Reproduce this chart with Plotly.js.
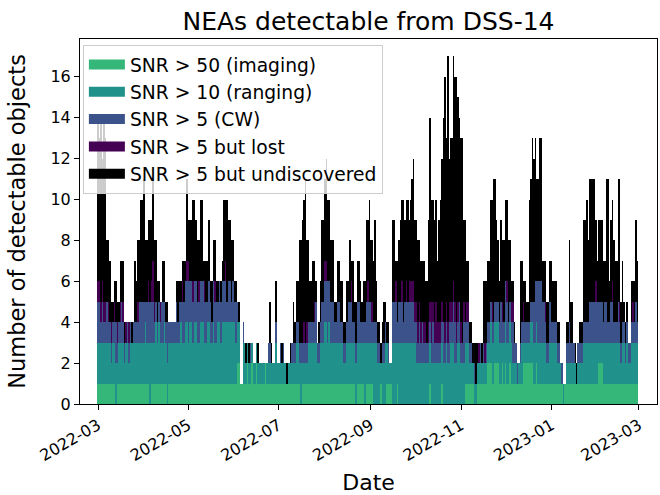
<!DOCTYPE html>
<html><head><meta charset="utf-8">
<script src="https://cdn.plot.ly/plotly-3.0.1.min.js"></script>
<style>html,body{margin:0;padding:0;background:#fff}#chart{width:660px;height:495px}</style>
</head><body><div id="chart"></div>
<script>
// first day of the daily series (one bar per day)
const startDate = [2022, 2, 1]; // 2022-03-01 (month is 0-based)

const seriesNames = ['SNR > 50 (imaging)', 'SNR > 10 (ranging)', 'SNR > 5 (CW)', 'SNR > 5 but lost', 'SNR > 5 but undiscovered'];
const seriesColors = ['#35b779', '#21918c', '#3b528b', '#440154', '#000000'];

const tickDates = ['2022-03-01', '2022-05-01', '2022-07-01', '2022-09-01', '2022-11-01', '2023-01-01', '2023-03-01'];
const tickLabels = ['2022-03', '2022-05', '2022-07', '2022-09', '2022-11', '2023-01', '2023-03'];

const snr50 = [
1,1,1,1,1,1,1,1,1,1, 1,1,0,1,1,1,1,1,1,1, 1,1,1,1,1,1,1,1,1,1, 1,1,1,1,1,0,1,1,1,1,
1,1,1,1,1,1,1,0,1,1, 1,1,1,1,1,1,1,1,1,1, 1,1,1,1,1,1,1,1,1,1, 1,1,1,1,1,1,1,1,1,1,
1,1,1,1,1,1,1,1,1,1, 1,1,1,1,2,2,1,1,1,1, 1,2,1,1,2,1,1,2,1,1, 1,1,1,2,1,1,1,1,1,1,
1,1,1,1,1,1,1,1,1,1, 1,1,1,1,1,1,1,0,1,1, 1,1,1,1,1,1,1,1,1,1, 1,1,1,1,1,1,1,1,1,1,
1,1,1,1,1,1,1,1,1,1, 1,1,1,1,0,1,1,1,1,1, 0,1,1,1,1,1,0,0,0,0, 0,1,0,0,0,1,1,1,1,0,
0,0,1,0,0,0,0,0,0,0, 0,0,0,0,0,0,0,0,0,0, 0,0,0,0,1,0,0,0,0,0, 0,0,1,0,0,0,0,0,0,0,
0,0,0,0,0,0,0,0,1,1, 1,1,1,1,0,0,1,1,1,1, 1,1,1,2,2,2,1,1,2,2, 2,1,1,2,1,2,1,1,2,1,
1,1,1,1,1,1,1,2,2,2, 2,2,2,2,1,1,2,1,1,1, 1,1,1,1,1,1,1,1,1,1, 1,1,1,1,0,1,1,1,1,1,
1,1,1,1,1,1,1,1,1,1, 1,1,1,1,1,1,1,1,2,2, 2,1,1,1,1,1,1,1,1,1, 1,1,1,1,1,1,1,1,1,1,
1,1,1,1,1];

const snr10 = [
2,2,2,2,2,2,2,2,2,1, 2,2,2,1,2,2,2,2,1,2, 2,1,2,2,2,2,2,2,2,2, 2,2,3,2,2,3,2,2,2,3,
2,3,2,2,2,3,2,2,2,2, 2,2,2,2,2,2,3,2,2,3, 3,2,3,3,2,3,3,2,2,3, 3,3,2,2,3,3,2,2,3,2,
2,3,3,2,3,3,3,3,3,3, 3,3,3,2,2,2,0,0,2,2, 1,1,1,1,1,1,1,1,1,1, 1,1,1,0,1,1,1,1,1,1,
2,1,1,1,1,1,1,0,0,1, 1,1,1,1,2,2,1,2,1,1, 1,1,2,2,2,2,2,2,1,1, 2,2,2,3,3,2,3,2,2,2,
2,2,2,2,2,2,1,1,2,2, 2,2,2,2,2,2,2,2,2,2, 3,2,2,2,2,2,3,3,3,2, 2,1,2,2,3,2,1,1,1,3,
3,3,2,3,3,3,3,3,3,3, 3,3,3,3,3,2,2,2,2,2, 2,2,2,2,2,2,2,2,2,2, 2,2,2,2,2,3,2,2,3,3,
3,2,2,3,3,2,2,2,2,2, 2,1,1,1,1,1,1,1,1,1, 1,1,1,1,1,2,2,2,2,2, 2,2,2,1,2,2,2,2,2,2,
1,1,1,0,1,1,2,1,1,1, 1,1,2,2,2,2,2,2,2,2, 2,2,2,1,1,2,2,2,2,2, 1,1,1,0,1,0,1,1,1,1,
1,1,1,0,1,1,1,1,2,2, 2,2,2,2,2,2,2,2,1,1, 1,2,2,2,2,2,2,2,2,2, 2,2,2,1,2,2,1,2,1,1,
2,2,2,2,2];

const snr5cw = [
2,2,1,2,1,1,2,1,1,1, 1,1,2,1,1,1,2,1,1,0, 1,1,1,0,1,1,1,1,2,2, 2,2,1,2,2,2,2,2,1,1,
1,1,1,2,2,1,1,2,1,1, 1,1,1,2,1,2,1,2,2,2, 2,3,2,2,2,2,2,2,2,2, 2,2,2,2,1,2,2,1,2,2,
2,1,2,2,2,2,2,1,2,2, 1,2,1,2,1,0,0,0,1,0, 0,0,0,1,0,0,0,0,0,0, 0,0,0,0,0,1,1,0,0,0,
1,0,0,1,0,1,0,0,0,0, 0,1,1,1,1,1,1,1,1,1, 1,1,1,1,1,1,1,2,1,1, 1,2,2,2,2,3,2,2,2,2,
1,1,2,2,1,1,1,1,1,2, 2,2,1,1,1,2,2,1,1,1, 1,2,2,2,2,1,1,1,1,1, 1,0,1,1,1,0,1,0,0,2,
2,2,1,2,2,2,1,2,2,2, 2,2,2,2,1,2,1,2,1,2, 1,1,1,1,1,1,2,1,1,1, 1,1,1,2,1,1,1,2,1,1,
2,2,1,1,2,1,1,2,1,1, 1,1,1,0,1,0,0,0,1,0, 1,0,1,1,1,1,1,1,1,1, 1,1,2,1,1,2,2,1,1,1,
2,1,1,1,0,1,1,1,1,1, 1,1,1,1,2,3,2,3,3,3, 2,2,1,1,1,2,1,1,1,1, 1,1,0,1,0,0,1,1,2,1,
1,1,0,0,1,1,1,1,1,1, 1,1,2,2,2,2,2,2,2,2, 2,1,2,2,1,1,2,2,1,1, 1,2,1,1,1,1,1,1,1,1,
1,1,1,2,1];

const snr5lost = [
1,1,1,1,1,1,0,1,0,1, 0,1,0,1,0,1,0,1,0,1, 0,1,0,0,0,0,0,1,0,0, 0,0,0,0,1,0,1,2,1,0,
0,0,1,0,0,0,0,0,0,0, 0,0,0,0,0,0,0,1,0,0, 1,1,0,0,1,0,0,0,1,0, 0,0,1,0,0,0,0,0,0,1,
0,0,0,0,0,0,1,0,0,0, 0,0,0,0,0,0,0,0,0,0, 0,0,0,0,0,0,0,0,0,0, 0,0,0,0,0,0,0,0,0,0,
0,0,0,0,0,0,0,0,0,0, 0,0,0,0,0,0,0,0,0,1, 0,1,0,0,0,0,1,0,0,0, 0,0,0,1,1,0,0,0,0,0,
0,0,0,0,0,0,0,0,0,0, 0,1,0,0,0,0,0,0,0,0, 0,0,1,0,0,1,0,0,0,0, 0,0,0,0,0,0,0,0,0,0,
0,1,0,0,0,1,0,0,1,0, 1,1,1,1,1,1,1,1,1,0, 1,1,0,1,1,2,1,1,2,1, 1,1,1,0,1,1,1,1,1,1,
1,1,1,1,0,1,0,1,0,1, 1,0,0,0,0,0,0,1,0,0, 0,1,0,0,0,0,1,0,0,0, 0,0,0,1,0,0,1,0,0,1,
1,0,0,0,0,0,0,1,0,0, 0,0,0,0,0,0,0,0,0,0, 0,0,1,0,0,0,0,0,0,0, 0,0,0,0,0,0,0,0,0,0,
0,0,0,0,0,0,0,0,0,0, 0,0,0,0,0,0,1,0,0,0, 0,0,0,0,0,0,0,1,0,0, 0,0,1,0,0,0,0,0,0,0,
0,1,0,0,0];

const snr5undisc = [
8,7,9,6,9,8,3,3,3,1, 1,1,2,1,1,2,2,2,1,0, 0,0,0,1,0,3,2,3,3,5, 5,6,3,3,3,4,3,4,3,3,
2,1,0,0,2,2,1,1,0,0, 0,0,0,1,2,1,1,1,2,1, 4,2,3,3,4,4,3,3,2,4, 4,1,1,2,2,3,1,2,2,2,
1,1,0,1,1,4,3,5,3,3, 3,2,1,1,0,1,0,0,0,0, 1,0,1,0,0,0,0,0,1,0, 0,0,0,0,0,0,2,1,0,0,
2,0,0,0,1,0,0,1,1,0, 1,0,2,1,2,2,5,5,6,6, 8,4,4,2,2,3,2,1,0,1, 2,4,4,4,5,4,4,3,3,3,
1,1,2,2,2,2,1,1,2,1, 3,1,3,1,2,2,2,2,1,2, 2,4,3,5,3,3,3,5,2,1, 1,1,1,2,1,1,1,0,0,4,
4,1,3,3,4,4,6,4,4,5, 3,4,5,6,4,4,4,3,3,3, 3,2,3,5,9,5,5,5,5,3, 5,6,7,10,12,8,13,7,8,8,
11,11,12,10,9,9,10,4,5,2, 2,1,1,1,1,2,1,0,0,1, 3,3,3,3,3,5,5,7,6,4, 3,2,4,3,4,4,4,4,3,1,
1,1,0,0,0,4,3,1,2,1, 1,6,6,8,7,7,5,5,7,7, 2,2,2,2,2,2,3,2,2,2, 1,1,0,0,0,0,1,1,4,2,
2,0,1,1,0,1,1,1,5,5, 6,4,6,6,6,6,3,2,4,4, 4,3,2,6,7,2,4,4,4,3, 3,6,6,2,3,1,1,1,0,0,
2,1,2,4,3];

const seriesValues = [snr50, snr10, snr5cw, snr5lost, snr5undisc];

function dayList(n) {
  const t0 = Date.UTC(startDate[0], startDate[1], startDate[2]);
  const out = [];
  for (let i = 0; i < n; i++) out.push(new Date(t0 + i * 86400000).toISOString().slice(0, 10));
  return out;
}
const days = dayList(snr50.length);

const FONT = 'DejaVu Sans, sans-serif';
const traces = [];
seriesValues.forEach((vals, i) => {
  traces.push({
    type: 'bar', x: days, y: vals, name: seriesNames[i],
    marker: {color: seriesColors[i], line: {width: 0}},
    showlegend: false, hoverinfo: 'x+y+name'
  });
});
// legend entries drawn as wide colour patches
seriesValues.forEach((vals, i) => {
  traces.push({
    type: 'scatter', mode: 'lines', x: [null], y: [null], name: seriesNames[i],
    line: {color: seriesColors[i], width: 12}, legendgroup: 'g' + i, showlegend: true, hoverinfo: 'skip'
  });
});

const layout = {
  width: 660, height: 495,
  margin: {l: 80, r: 3, t: 39, b: 91, pad: 0},
  paper_bgcolor: '#fff', plot_bgcolor: '#fff',
  barmode: 'stack', bargap: 0,
  font: {family: FONT, color: '#000', size: 16},
  title: {text: 'NEAs detectable from DSS-14', font: {family: FONT, size: 25, color: '#000'},
          x: 0.5, xref: 'paper', xanchor: 'center', y: 0.958, yref: 'container', yanchor: 'middle'},
  xaxis: {
    type: 'date', range: ['2022-02-16 20:24', '2023-03-13 03:36'],
    tickmode: 'array', tickvals: tickDates, ticktext: tickLabels, tickangle: -30,
    ticks: 'outside', ticklen: 5, tickwidth: 1, tickcolor: '#000',
    showline: true, linecolor: '#000', linewidth: 1, mirror: true,
    showgrid: false, zeroline: false,
    tickfont: {family: FONT, size: 16, color: '#000'},
    title: {text: 'Date', font: {family: FONT, size: 22, color: '#000'}, standoff: 12}
  },
  yaxis: {
    range: [0, 17.85],
    tickmode: 'array', tickvals: [0, 2, 4, 6, 8, 10, 12, 14, 16],
    ticks: 'outside', ticklen: 5, tickwidth: 1, tickcolor: '#000',
    showline: true, linecolor: '#000', linewidth: 1, mirror: true,
    showgrid: false, zeroline: false,
    tickfont: {family: FONT, size: 16, color: '#000'},
    title: {text: 'Number of detectable objects', font: {family: FONT, size: 22.5, color: '#000'}, standoff: 18}
  },
  legend: {
    x: 0.005, y: 0.984, xanchor: 'left', yanchor: 'top',
    bgcolor: 'rgba(255,255,255,0.8)', bordercolor: '#cccccc', borderwidth: 1,
    font: {family: FONT, size: 18.7, color: '#000'},
    traceorder: 'grouped', tracegroupgap: 0, itemwidth: 36
  },
  showlegend: true
};

Plotly.newPlot('chart', traces, layout, {displayModeBar: false, staticPlot: true});
</script>
</body></html>
